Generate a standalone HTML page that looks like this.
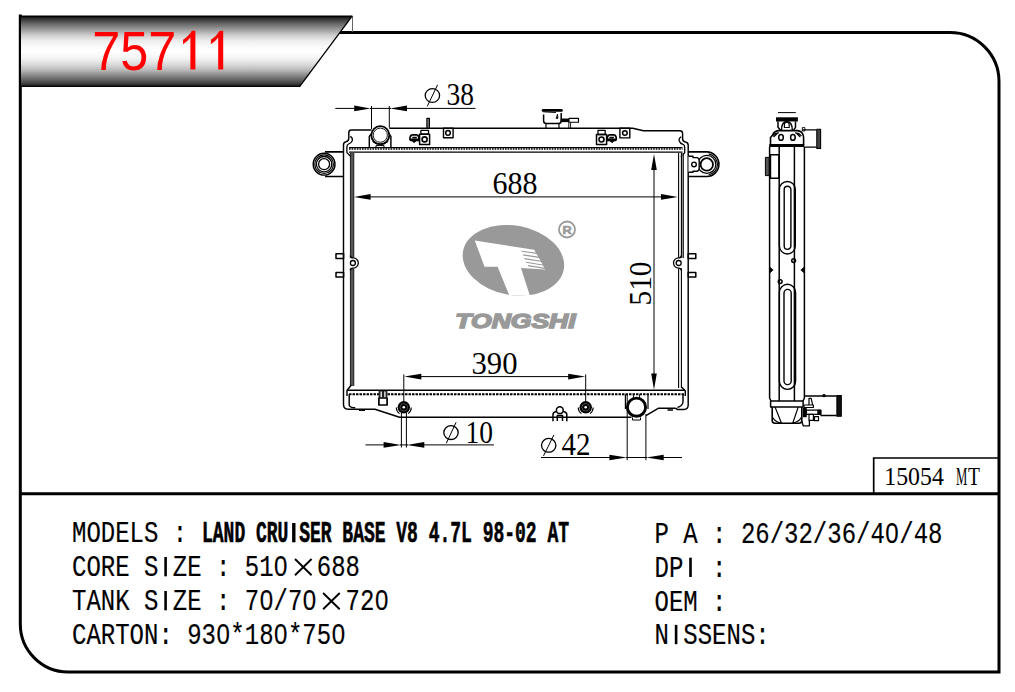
<!DOCTYPE html>
<html>
<head>
<meta charset="utf-8">
<title>75711</title>
<style>
html,body{margin:0;padding:0;background:#fff;}
body{width:1015px;height:692px;overflow:hidden;font-family:"Liberation Sans",sans-serif;}
svg{display:block;}
svg text{white-space:pre;}
.mono{font-family:"Liberation Mono",monospace;fill:#000;}
.serif{font-family:"Liberation Serif",serif;fill:#000;}
.sans{font-family:"Liberation Sans",sans-serif;}
.ln{stroke:#000;fill:none;}
</style>
</head>
<body>
<svg width="1015" height="692" viewBox="0 0 1015 692">
<defs>
<linearGradient id="bg" x1="0" y1="0" x2="0" y2="1">
<stop offset="0" stop-color="#000"/>
<stop offset="0.015" stop-color="#000"/>
<stop offset="0.03" stop-color="#222"/>
<stop offset="0.048" stop-color="#333"/>
<stop offset="0.113" stop-color="#666"/>
<stop offset="0.193" stop-color="#999"/>
<stop offset="0.273" stop-color="#ccc"/>
<stop offset="0.357" stop-color="#eee"/>
<stop offset="0.436" stop-color="#fafafa"/>
<stop offset="0.5" stop-color="#fff"/>
<stop offset="0.594" stop-color="#f4f4f4"/>
<stop offset="0.678" stop-color="#ddd"/>
<stop offset="0.759" stop-color="#bbb"/>
<stop offset="0.84" stop-color="#888"/>
<stop offset="0.922" stop-color="#555"/>
<stop offset="0.965" stop-color="#333"/>
<stop offset="0.985" stop-color="#111"/>
<stop offset="1" stop-color="#000"/>
</linearGradient>
</defs>
<rect width="1015" height="692" fill="#fff"/>

<!-- FRAME -->
<g id="frame" class="ln" stroke-width="3">
<path d="M339 32.5 H950 A49 49 0 0 1 999 81.5 V672 H68 A48 48 0 0 1 20.3 624 V14.5"/>
<path d="M20.3 493.7 H999"/>
</g>
<path class="ln" stroke-width="1.7" d="M873.7 494 V458 H999"/>
<path stroke="#666" fill="none" stroke-width="1" d="M352.5 16 V32"/>

<!-- BANNER -->
<polygon points="21,15.5 352.5,15.5 299.6,87 21,87" fill="url(#bg)"/>
<path d="M352.3 15.8 L299.4 86.8" stroke="#000" stroke-width="1.3" fill="none"/>
<g id="title" fill="#f00">
<text class="sans" font-size="50.4" transform="translate(92.2 69.6) scale(1 1.10)">757</text>
<path d="M195.4 30.8 V69.6 H190.4 V37.6 Q187.5 41.5 183.1 44.3 V39.7 Q189 36 191.9 30.8 Z"/>
<path d="M223.2 30.8 V69.6 H218.2 V37.6 Q215.3 41.5 210.9 44.3 V39.7 Q216.8 36 219.7 30.8 Z"/>
</g>

<!-- BADGE -->
<g id="badge" class="serif" font-size="24">
<text transform="translate(884.3 485) scale(1 1.07)" textLength="59.5" lengthAdjust="spacingAndGlyphs">15054</text>
<text transform="translate(956 485) scale(1 1.09)" textLength="11.3" lengthAdjust="spacingAndGlyphs">M</text>
<text transform="translate(968 485) scale(1 1.09)" textLength="12" lengthAdjust="spacingAndGlyphs">T</text>
</g>

<!-- DRAWING -->
<g id="drawing">
<g id="front" class="ln" stroke-width="1.45" stroke-linejoin="round" stroke-linecap="butt">
<!-- top tank outline -->
<path d="M371.5 130 H351.5 Q348.8 130 348.8 132.7 V138 Q348.8 141.3 346 141.7 Q343.5 142 343.5 145 V404.5 Q343.6 409.2 348 409.2 H375 L399.5 417.3 H631.5"/>
<path d="M389.3 128.2 H632.7 L643.5 130.8 H679.8 Q682.6 130.8 682.6 133.5 V138.5 Q682.6 141.6 685.5 142 Q688.2 142.3 688.2 145.3 V405 Q688.2 409.4 684 409.4 H677 Q677 408.3 675 408.3 H658.2 L645.9 415.7"/>
<!-- inner left notch line -->
<path d="M350.3 136.4 Q353 138 352.3 140.6 Q351.5 143 348.6 144 Q346.9 144.7 346.9 147 V152.6 L351.2 157" stroke-width="1.3"/>
<path d="M681.2 136.8 Q678.5 138.4 679.2 141 Q680 143.4 683 144.4 Q684.7 145 684.7 147.4 V152.6 L681 157" stroke-width="1.3"/>
<!-- tank/core junction top -->
<path d="M349 152.2 H682.5" stroke-width="1.3"/>
<path d="M349 147.6 H682.5" stroke-width="1.4"/>
<path d="M349 148.9 H682.5" stroke-width="1.5" stroke-dasharray="1.6 1"/>
<!-- core side bands -->
<path d="M352.1 153 V386" stroke-width="3.4" stroke="#555"/>
<path d="M350.4 153 V386 M353.8 153 V386" stroke-width="0.8"/>
<path d="M682.1 153 V258" stroke-width="1.4" stroke="#999"/>
<path d="M678.6 153 V388 M681.4 153 V388" stroke-width="1.1"/>
<path d="M683.3 153 V258" stroke-width="1"/>
<!-- core bottom -->
<path d="M347 390.3 H685"/>
<path d="M349 394.2 H684" stroke-width="2" stroke-dasharray="2.5 1"/>
<path d="M351.3 385 L347 390.5 V396"/>
<path d="M349.2 394 V405 Q349.5 407.8 355.2 407.8"/>
<path d="M681.5 387 L685.3 391 V396"/>
<path d="M683 394 V402 Q682.5 406 677.5 407.5"/>
<!-- filler neck -->
<path d="M369.3 148 V136.5 L372 133 M390.9 148 V136.5 L388.5 133"/>
<circle cx="380.3" cy="135.2" r="9" stroke-width="1.8" fill="#fff"/>
<circle cx="380.3" cy="135.2" r="7.1" stroke-width="0.9"/>
<path d="M372.5 141.5 Q380.3 148 388.2 141.5" stroke-width="1"/>
<path d="M376 145.5 V148 M384 145.5 V148 M376 145.6 H384" stroke-width="1"/>
<!-- pin + bracket left -->
<rect x="426.9" y="118.4" width="2.5" height="9.6" stroke-width="1.2" fill="#888"/>
<rect x="419.6" y="134.2" width="10" height="10.2" stroke-width="1.5"/>
<rect x="420.9" y="130.3" width="7.6" height="3.9" stroke-width="1.3"/>
<circle cx="424.6" cy="139.4" r="2.5" stroke-width="1.6"/>
<path d="M411.5 134.9 H417.5 M410 140.2 Q409.4 136.5 411.5 135 M417.5 135 Q419 136 419 140 M409.8 140.3 H419.4 M412.3 137.6 H416.8" stroke-width="1.6"/><path d="M410.5 139 H419 V140.8 H410.5 Z M412.5 141 Q414 144 415.8 141 Z" fill="#000" stroke-width="1"/>
<rect x="443.5" y="128.2" width="9.6" height="9.6" stroke-width="1.4"/>
<circle cx="448" cy="132.9" r="2.3" stroke-width="1.5"/>
<!-- pin + bracket right -->
<rect x="596.5" y="134.5" width="10.1" height="9.9" stroke-width="1.5"/>
<rect x="598" y="130.4" width="7.2" height="4.1" stroke-width="1.3"/>
<circle cx="601.5" cy="139.5" r="2.5" stroke-width="1.6"/>
<path d="M608.7 134.9 H614.7 M616.2 140.2 Q616.8 136.5 614.7 135 M608.7 135 Q607.2 136 607.2 140 M606.8 140.3 H616.4 M609.4 137.6 H613.9" stroke-width="1.6"/><path d="M607.2 139 H615.7 V140.8 H607.2 Z M610.4 141 Q612.2 144 613.7 141 Z" fill="#000" stroke-width="1"/>
<rect x="619.9" y="128.2" width="9.9" height="9.7" stroke-width="1.4"/>
<circle cx="624.9" cy="133" r="2.3" stroke-width="1.5"/>
<!-- cap -->
<path d="M543 110.4 H561.5" stroke-width="2.6" stroke-linecap="round"/>
<path d="M543.6 114.5 V120.7 Q543.6 123.5 546.4 123.5 H558.4 Q561.2 123.5 561.2 120.7 V113" stroke-width="1.5"/><path d="M543 111.8 L556 112.6" stroke-width="0.9"/>
<path d="M546 123.8 V128.2 M559 123.8 V128.2" stroke-width="1.2"/>
<path d="M560.7 120.3 H569" stroke-width="3.6"/>
<rect x="569" y="118.4" width="9.5" height="3.9" stroke-width="1.1"/>
<path d="M568.8 122.3 V128.2 M570.6 122.3 V128.2" stroke-width="0.9"/>
<path d="M557.5 114 L556 118.5 H558 Z" fill="#000" stroke-width="0.6"/>
<!-- left mount -->
<path d="M325 151.9 H343.6 M325 176.5 H343.6" stroke-width="1.7"/>
<circle cx="324.1" cy="164.2" r="10.9" stroke-width="1.4"/>
<circle cx="324.1" cy="164.2" r="9.3" stroke-width="1.2"/>
<circle cx="324.1" cy="164.2" r="7.7" stroke-width="1.3"/>
<circle cx="324.1" cy="164.2" r="5.5" stroke-width="1.3"/>
<!-- right mount -->
<path d="M688.2 151.9 H706.8 A12.1 12.3 0 0 1 706.8 176.5 H688.2" stroke-width="1.6"/>
<path d="M708.64 153.96 A10.6 10.6 0 0 1 708.64 174.84" stroke-width="1.2"/>
<circle cx="706.8" cy="164.4" r="9" stroke-width="1.2"/>
<circle cx="706.8" cy="164.4" r="6.2" stroke-width="1.8" fill="#fff"/>
<path d="M688.5 156.3 H693 V157.6 H697 Q699.2 158 699.2 160.5 V168.3 Q699.2 171 697 171.2 H693 V172.2 H688.5" stroke-width="1.4" fill="#fff"/>
<circle cx="694" cy="164.4" r="2.3" stroke-width="1.4"/>
<!-- side middle features -->
<circle cx="679.6" cy="263" r="5.8" fill="#fff" stroke="none"/>
<path d="M681.3 255.6 Q681.2 257.9 678.6 257.9 A5.1 5.1 0 0 0 678.6 268.1 Q681.2 268.1 681.3 270.4" stroke-width="1.3"/>
<circle cx="678.7" cy="263" r="2.5" stroke-width="1.3"/>
<rect x="688.2" y="253.8" width="7.6" height="4.6" stroke-width="1.5"/>
<rect x="688.2" y="272.5" width="7.6" height="4.6" stroke-width="1.5"/>
<circle cx="353" cy="263" r="5.8" fill="#fff" stroke="none"/>
<path d="M350.3 255.6 Q350.4 257.9 353.2 257.9 A5.1 5.1 0 0 1 353.2 268.1 Q350.4 268.1 350.3 270.4" stroke-width="1.3"/>
<circle cx="352.9" cy="263" r="2.5" stroke-width="1.3"/>
<rect x="336" y="253.8" width="7.6" height="4.6" stroke-width="1.5"/>
<rect x="336" y="272.5" width="7.6" height="4.6" stroke-width="1.5"/>
<!-- drain -->
<rect x="378.6" y="391" width="8.8" height="6.6" fill="#222" stroke="none"/><path d="M381.2 391.5 V397.4 M384.9 391.5 V397.4" stroke="#fff" stroke-width="1.3"/>
<rect x="378.9" y="398" width="8.2" height="7" stroke-width="1.7"/>

<!-- oil cooler ports -->
<circle cx="403.8" cy="407.3" r="6.2" fill="#000" stroke="none"/><circle cx="403.8" cy="407.3" r="3.8" stroke="#555" stroke-width="0.8"/><circle cx="403.8" cy="407.3" r="1.3" fill="#fff" stroke="none"/>
<path d="M396.3 407.5 A7.7 7.7 0 0 0 399.5 413.6 M411.3 407.5 A7.7 7.7 0 0 1 408.1 413.6" stroke-width="1.1"/>
<circle cx="585.7" cy="407.3" r="6.2" fill="#000" stroke="none"/><circle cx="585.7" cy="407.3" r="3.8" stroke="#555" stroke-width="0.8"/><circle cx="585.7" cy="407.3" r="1.3" fill="#fff" stroke="none"/>
<path d="M578.2 407.5 A7.7 7.7 0 0 0 581.4 413.6 M593.2 407.5 A7.7 7.7 0 0 1 590 413.6" stroke-width="1.1"/>
<!-- small bracket bottom -->
<circle cx="559.8" cy="410.2" r="3.4" stroke-width="1.5"/>
<path d="M553 421.2 V414.5 Q553 412 556.5 411.5 M566.8 421.2 V414.5 Q566.8 412 563.2 411.5 M557.3 421 V415.5 H562.5 V421" stroke-width="1.5"/>
<!-- outlet -->
<path d="M625.4 394.6 V409 M648 394.6 V409" stroke-width="1.2"/>
<circle cx="636.5" cy="407.2" r="9.1" stroke-width="2.9" fill="#fff"/>
<path d="M632.5 417.5 V420 H640.5 V417.5" stroke-width="1"/>
<path d="M633.5 394.6 V398 M639.5 394.6 V398" stroke-width="0.9"/>
<path d="M359 410.4 H365 M667.5 410 H673" stroke-width="1.4"/>
</g>
<g id="dims" stroke="#000" stroke-width="1" fill="none">
<!-- phi38 -->
<path d="M335.3 108.4 H354.5 M370 108.4 H391 M406.8 108.4 H475.5 M371.5 106 V129 M389.3 106 V127.8"/>
<path d="M370.6 108.4 L354.2 105.6 V111.2 Z M390.2 108.4 L407 105.6 V111.2 Z" fill="#000" stroke="none"/>
<!-- 688 -->
<path d="M370 196.9 H661"/>
<path d="M353.9 196.9 L370.6 194 V199.8 Z M677.8 196.9 L661 194 V199.8 Z" fill="#000" stroke="none"/>
<!-- 510 -->
<path d="M654 169 V374"/>
<path d="M654 154 L651.2 170 H656.8 Z M654 389.8 L651.2 373.5 H656.8 Z" fill="#000" stroke="none"/>
<!-- 390 -->
<path d="M420 376.6 H569 M403.8 374.4 V401 M585.7 374.4 V401.5"/>
<path d="M404.3 376.6 L421.3 373.8 V379.4 Z M585.2 376.6 L568.2 373.8 V379.4 Z" fill="#000" stroke="none"/>
<!-- phi10 -->
<path d="M365.5 444.9 H384 M400 444.9 H408 M424 444.9 H494 M401.4 413 V447.5 M406.4 413 V447.5"/>
<path d="M401 444.9 L383.6 442.1 V447.7 Z M406.8 444.9 L424.3 442.1 V447.7 Z" fill="#000" stroke="none"/>
<!-- phi42 -->
<path d="M541 457.5 H610 M626 457.5 H647 M663 457.5 H682 M627.2 394.6 V460.2 M645.9 414 V460.2"/>
<path d="M626.8 457.5 L609.4 454.7 V460.3 Z M646.3 457.5 L663.7 454.7 V460.3 Z" fill="#000" stroke="none"/>
<!-- phi glyphs -->
<ellipse cx="432.4" cy="95.5" rx="7.2" ry="6.9" stroke-width="1.3"/><path d="M427.3 106.3 L437.6 84.8"/>
<ellipse cx="451" cy="432.6" rx="7.2" ry="6.9" stroke-width="1.3"/><path d="M446.3 443.3 L456.1 422.3"/>
<ellipse cx="548.7" cy="445.3" rx="7.2" ry="6.9" stroke-width="1.3"/><path d="M543.5 455.9 L553.9 434.9"/>
</g>
<g id="dimtext" class="serif" font-size="31">
<text x="446.5" y="105" textLength="27.5" lengthAdjust="spacingAndGlyphs">38</text>
<text x="492.5" y="193.6" textLength="45" lengthAdjust="spacingAndGlyphs">688</text>
<text x="471.5" y="374" textLength="46" lengthAdjust="spacingAndGlyphs">390</text>
<text x="465.5" y="442.6" textLength="27.5" lengthAdjust="spacingAndGlyphs">10</text>
<text x="561.5" y="455.3" textLength="29" lengthAdjust="spacingAndGlyphs">42</text>
<text transform="translate(650.6 305.5) rotate(-90)" x="0" y="0" textLength="44" lengthAdjust="spacingAndGlyphs">510</text>
</g>
<g id="side" class="ln" stroke-width="1.5" stroke-linejoin="round">
<path d="M778 112.6 H795.8" stroke-width="1"/>
<!-- cap -->
<path d="M776 119.4 H797.9" stroke-width="4.2"/>
<path d="M778 121.5 V127.3 L780.6 130.2 M795.5 121.5 V127.3 L793.6 130.2" stroke-width="1.5"/>
<path d="M781.5 130 Q781.5 122 786.8 121.5 Q792.3 122 792.3 130" stroke-width="1.4"/>
<path d="M784.4 127.5 V124.5 A2.4 2.4 0 0 1 789.2 124.5 V127.5 Z" stroke-width="1.2"/>
<!-- tank top -->
<path d="M770.5 144.2 V137.5 L772.3 135.5 Q774 131 778.5 130.6 H797.5 Q802 131 803.3 135.5 L803.6 137.5 V144.2" stroke-width="1.6"/>
<path d="M772.3 135.8 Q775.5 132.5 779 133 M801.5 135.8 Q798.5 132.5 795 133 M773.5 137 L777.5 133.3 M800.3 137 L796.5 133.3" stroke-width="1.2"/>
<ellipse cx="781" cy="137.4" rx="2.3" ry="2.9" stroke-width="1.5"/>
<ellipse cx="792.9" cy="137.4" rx="2.3" ry="2.9" stroke-width="1.5"/>
<path d="M769.2 145.5 H804.4" stroke-width="2.8"/>
<!-- top side pipe -->
<path d="M802 129.8 H816.6 M804.4 147.1 H816.6" stroke-width="1.3"/>
<rect x="816.8" y="129.3" width="3.8" height="19.1" fill="#444" stroke-width="1.1"/>
<rect x="802.3" y="127.6" width="2.6" height="3.4" stroke-width="0.9"/>
<!-- body -->
<path d="M769.6 147 V398 L771 401 M804.4 147 V398 L803 401 M779.2 147 V401 M794.4 147 V401"/>
<!-- left box -->
<rect x="770.4" y="154.8" width="8.6" height="23.4" stroke-width="1.6"/>
<rect x="765.4" y="157.4" width="3.8" height="18.2" fill="#555" stroke-width="1"/>
<!-- slots -->
<path d="M779.4 189.4 A7.95 7.95 0 0 1 795.3 189.4 V246 A7.95 7.95 0 0 1 779.4 246 Z" stroke-width="1.4"/>
<path d="M784.2 189.6 A3.35 3.35 0 0 1 790.9 189.6 V246 A3.35 3.35 0 0 1 784.2 246 Z" stroke-width="1.4"/>
<path d="M779.4 292.4 A8.1 8.1 0 0 1 795.6 292.4 V381.3 A8.1 8.1 0 0 1 779.4 381.3 Z" stroke-width="1.4"/>
<path d="M784 293 A3.6 3.6 0 0 1 791.2 293 V381 A3.6 3.6 0 0 1 784 381 Z" stroke-width="1.4"/>
<circle cx="793.6" cy="260.6" r="1.9" stroke-width="1.5"/>
<circle cx="780.2" cy="281.6" r="1.9" stroke-width="1.5"/>
<path d="M769.6 266.8 L773.2 270 L769.6 273.2 Z M804.4 266.8 L800.8 270 L804.4 273.2 Z" fill="#000" stroke-width="0.6"/>
<!-- bottom -->
<rect x="770.6" y="400.9" width="32.5" height="6.2" stroke-width="1.5"/>
<path d="M772.2 407.1 V420.5 Q772.3 423.3 775 423.3 H799 Q801.7 423.3 801.8 420.5 V407.1" stroke-width="1.6"/>
<path d="M775.1 407.1 L781.4 423 M798.2 407.1 L792.8 423 M772.4 417 Q775 422 781 423 M801.6 417 Q799 422 793 423" stroke-width="1.2"/>
<!-- outlet pipe -->
<path d="M804.4 396 H836.7 M820.4 415.5 H836.7" stroke-width="1.5"/>
<rect x="836.9" y="395.6" width="4.4" height="20.7" fill="#111" stroke-width="1.1"/>
<circle cx="824" cy="395.6" r="1.3" fill="#000" stroke-width="0.8"/>
<!-- mechanism -->
<path d="M809 405 V398.3 H811.2 L812.6 405" stroke-width="1.2"/>
<rect x="804" y="405" width="9.4" height="2.5" stroke-width="1.1"/>
<rect x="803.4" y="408.6" width="2.8" height="8" fill="#000" stroke-width="1.2"/>
<rect x="806.4" y="410.2" width="14.4" height="4.2" stroke-width="1.3"/>
<rect x="817.8" y="410.2" width="3" height="4.2" fill="#000" stroke-width="1"/>
<rect x="809" y="414.4" width="4.4" height="6" stroke-width="1.2"/>
<rect x="814.5" y="416.6" width="4" height="4.1" stroke-width="1.2"/>
<path d="M801.8 421 L803.2 425.8 H809.4 V420.4" stroke-width="1.3"/>
</g>
</g>

<!-- LOGO -->
<g id="logo">
<ellipse cx="513.4" cy="260.3" rx="51.2" ry="34.75" transform="rotate(10.3 513.4 260.3)" fill="#999"/>
<polygon points="474.8,240.5 535.5,250 545.2,269.5 521,268.1 530,295.9 509.3,295.2 497.6,266.7 484.5,266.7" fill="#fff"/>
<g stroke="#999" stroke-width="1.1" fill="none">
<path d="M521.5 251.3 L539 253.6"/>
<path d="M523 254.9 L541 257.6"/>
<path d="M524.5 258.6 L542.5 261.5"/>
<path d="M526 262.2 L544 265.3"/>
<path d="M528 265.6 L545 268.4"/>
</g>
<polygon points="534,249.5 546,249.5 546,270 " fill="#999"/>
<circle cx="567" cy="229.5" r="8" fill="none" stroke="#999" stroke-width="1.8"/>
<text class="sans" x="562.4" y="233.5" font-size="11" font-weight="bold" fill="#999" stroke="#999" stroke-width="0.6" textLength="9.2" lengthAdjust="spacingAndGlyphs">R</text>
<text class="sans" x="455.3" y="327.9" font-size="20.2" font-weight="bold" font-style="italic" fill="#999" stroke="#999" stroke-width="1.5" stroke-linejoin="miter" textLength="120.3" lengthAdjust="spacingAndGlyphs">TONGSHI</text>
</g>


<!-- SPEC TEXT -->
<g id="spec" class="mono" font-size="24" stroke="#000" stroke-width="0.15" xml:space="preserve">
<text transform="translate(72 542.3) scale(1 1.2)">MODELS : </text>
<text transform="translate(72 576.3) scale(1 1.2)">CORE S ZE : 510</text>
<text transform="translate(72 610.3) scale(1 1.2)">TANK S ZE : 70/70</text>
<text transform="translate(72 644.3) scale(1 1.2)">CARTON: 930*180*750</text>
<text transform="translate(316.8 576.3) scale(1 1.2)">688</text>
<text transform="translate(345.6 610.3) scale(1 1.2)">720</text>
<text transform="translate(654.5 543.4) scale(1 1.2)">P A : 26/32/36/40/48</text>
<text transform="translate(654.5 577.0) scale(1 1.2)">DP  :</text>
<text transform="translate(654.5 610.6) scale(1 1.2)">OEM :</text>
<text transform="translate(654.5 644.2) scale(1 1.2)">N SSENS:</text>
</g>
<g id="zerofix" fill="#fff">
<ellipse cx="280.8" cy="566.5" rx="2.4" ry="3.6"/>
<ellipse cx="266.4" cy="600.5" rx="2.4" ry="3.6"/>
<ellipse cx="309.6" cy="600.5" rx="2.4" ry="3.6"/>
<ellipse cx="381.6" cy="600.5" rx="2.4" ry="3.6"/>
<ellipse cx="223.2" cy="634.5" rx="2.4" ry="3.6"/>
<ellipse cx="280.8" cy="634.5" rx="2.4" ry="3.6"/>
<ellipse cx="338.4" cy="634.5" rx="2.4" ry="3.6"/>
<ellipse cx="892.1" cy="533.6" rx="2.4" ry="3.6"/>
<ellipse cx="520.6" cy="532.5" rx="1.4" ry="3.4"/>
</g>
<g id="ibars" fill="#000">
<rect x="164.30" y="557.00" width="2.6" height="19.3"/>
<rect x="164.30" y="591.00" width="2.6" height="19.3"/>
<rect x="689.20" y="557.70" width="2.6" height="19.3"/>
<rect x="674.80" y="624.90" width="2.6" height="19.3"/>
<rect x="292.10" y="523.00" width="3.4" height="19.3"/>
</g>
<g id="times" stroke="#000" stroke-width="1.9" fill="none">
<path d="M295 559 L311.6 575.2 M311.6 559 L295 575.2"/>
<path d="M323.1 593 L339.7 609.2 M339.7 593 L323.1 609.2"/>
</g>
<text id="model" font-family="Liberation Mono" font-weight="bold" font-size="24" fill="#000" stroke="#000" stroke-width="0.5" transform="translate(202 542.3) scale(0.75 1.2)" xml:space="preserve">LAND CRU SER BASE V8 4.7L 98-02 AT</text>
</svg>
</body>
</html>
